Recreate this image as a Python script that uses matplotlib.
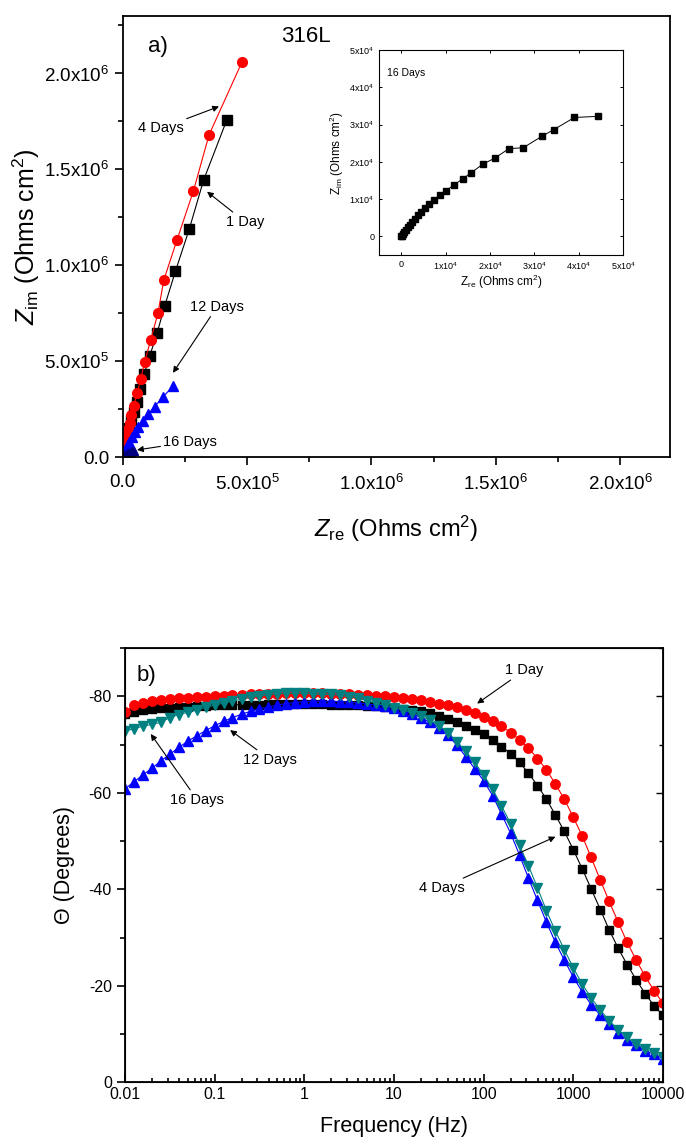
import numpy as np
import matplotlib
matplotlib.use('Agg')
import matplotlib.pyplot as plt
from matplotlib.ticker import FuncFormatter, MultipleLocator, FixedLocator

plt.rcParams['font.family'] = ['Liberation Sans', 'DejaVu Sans']
plt.rcParams['mathtext.fontset'] = 'custom'
plt.rcParams['mathtext.rm'] = 'Liberation Sans'
plt.rcParams['mathtext.it'] = 'Liberation Sans:italic'
plt.rcParams['axes.unicode_minus'] = False

# ---------------- a) Nyquist data [Ohms cm2] ----------------
zre_1day = [0.002e6, 0.004e6, 0.007e6, 0.011e6, 0.0149e6, 0.0242e6, 0.035e6, 0.047e6, 0.0578e6,
            0.070e6, 0.086e6, 0.1085e6, 0.138e6, 0.169e6, 0.212e6, 0.267e6, 0.325e6, 0.419e6]
zim_1day = [0.0, 0.011e6, 0.037e6, 0.072e6, 0.107e6, 0.150e6, 0.194e6, 0.238e6, 0.290e6,
            0.356e6, 0.432e6, 0.528e6, 0.646e6, 0.790e6, 0.970e6, 1.187e6, 1.444e6, 1.760e6]

zre_4day = [0.001e6, 0.003e6, 0.005e6, 0.007e6, 0.0111e6, 0.0157e6, 0.022e6, 0.028e6, 0.035e6,
            0.0442e6, 0.0578e6, 0.0723e6, 0.0884e6, 0.1125e6, 0.142e6, 0.165e6, 0.218e6,
            0.284e6, 0.347e6, 0.4795e6]
zim_4day = [0.020e6, 0.035e6, 0.045e6, 0.058e6, 0.081e6, 0.111e6, 0.145e6, 0.180e6, 0.220e6,
            0.269e6, 0.333e6, 0.406e6, 0.498e6, 0.611e6, 0.753e6, 0.923e6, 1.132e6,
            1.387e6, 1.680e6, 2.060e6]

zre_12day = [0.001e6, 0.0043e6, 0.0095e6, 0.0175e6, 0.0255e6, 0.036e6, 0.0482e6, 0.063e6,
             0.080e6, 0.102e6, 0.1285e6, 0.161e6, 0.202e6]
zim_12day = [0.0, 0.009e6, 0.030e6, 0.056e6, 0.082e6, 0.108e6, 0.134e6, 0.160e6,
             0.189e6, 0.224e6, 0.264e6, 0.3125e6, 0.371e6]

zre_16day = [0, 150, 300, 600, 970, 1420, 1940, 2460, 3060, 3730, 4480, 5300, 6190, 7310,
             8660, 10150, 11800, 13800, 15800, 18400, 21100, 24200, 27500, 31600, 34300,
             39000, 44400]
zim_16day = [0, 180, 625, 1160, 1790, 2410, 3125, 3930, 4730, 5625, 6600, 7600, 8660, 9730,
             11070, 12300, 13750, 15400, 17100, 19400, 21000, 23500, 23800, 26800, 28600,
             31900, 32200]

# ---------------- b) Bode phase data ----------------
freq = [0.01, 0.0126, 0.0158, 0.02, 0.0251, 0.0316, 0.0398, 0.0501, 0.0631, 0.0794,
        0.1, 0.126, 0.158, 0.2, 0.251, 0.316, 0.398, 0.501, 0.631, 0.794,
        1.0, 1.26, 1.58, 2.0, 2.51, 3.16, 3.98, 5.01, 6.31, 7.94,
        10.0, 12.6, 15.8, 20.0, 25.1, 31.6, 39.8, 50.1, 63.1, 79.4,
        100.0, 126.0, 158.0, 200.0, 251.0, 316.0, 398.0, 501.0, 631.0, 794.0,
        1000.0, 1260.0, 1580.0, 2000.0, 2510.0, 3160.0, 3980.0, 5010.0, 6310.0, 7940.0,
        10000.0]

phase_1day = [-76.7, -78.3, -78.7, -79.0, -79.3, -79.5, -79.6, -79.7, -79.8, -79.9,
              -80.0, -80.1, -80.2, -80.3, -80.4, -80.4, -80.5, -80.5, -80.6, -80.6,
              -80.6, -80.6, -80.6, -80.5, -80.5, -80.4, -80.3, -80.2, -80.1, -80.0,
              -79.9, -79.7, -79.5, -79.2, -78.9, -78.5, -78.1, -77.7, -77.2, -76.5,
              -75.8, -74.8, -73.8, -72.5, -71.0, -69.3, -67.1, -64.8, -61.8, -58.7,
              -54.9, -51.0, -46.6, -41.9, -37.5, -33.2, -29.0, -25.4, -22.0, -19.0,
              -16.4]
phase_4day = [-76.3, -76.8, -77.1, -77.3, -77.5, -77.6, -77.7, -77.8, -77.9, -78.0,
              -78.1, -78.2, -78.2, -78.3, -78.3, -78.3, -78.4, -78.4, -78.4, -78.4,
              -78.4, -78.4, -78.4, -78.3, -78.3, -78.2, -78.1, -78.0, -77.9, -77.8,
              -77.6, -77.4, -77.2, -76.9, -76.5, -75.9, -75.3, -74.6, -73.9, -73.1,
              -72.2, -71.0, -69.6, -68.1, -66.3, -64.1, -61.5, -58.7, -55.4, -52.0,
              -48.2, -44.2, -40.1, -35.8, -31.6, -27.8, -24.4, -21.3, -18.4, -15.9,
              -13.9]
phase_12day = [-60.8, -62.3, -63.7, -65.1, -66.6, -68.0, -69.4, -70.7, -71.8, -72.9,
               -73.9, -74.8, -75.6, -76.3, -76.9, -77.4, -77.8, -78.2, -78.5, -78.7,
               -78.9, -79.0, -79.0, -79.0, -78.9, -78.8, -78.6, -78.4, -78.2, -77.9,
               -77.5, -77.0, -76.4, -75.6, -74.6, -73.5, -72.0, -69.9, -67.5, -65.0,
               -62.5, -59.4, -55.6, -51.6, -47.1, -42.3, -37.7, -33.2, -29.0, -25.3,
               -21.8, -18.7, -16.1, -13.9, -12.0, -10.2, -8.8, -7.7, -6.5, -5.8,
               -4.9]
phase_16day = [-72.8, -73.3, -73.8, -74.2, -74.6, -75.6, -76.2, -76.7, -77.2, -77.7,
               -78.2, -78.6, -79.0, -79.4, -79.8, -80.1, -80.3, -80.5, -80.6, -80.6,
               -80.6, -80.5, -80.4, -80.4, -80.2, -79.9, -79.6, -79.1, -78.6, -78.1,
               -77.6, -77.2, -76.6, -75.9, -75.0, -73.9, -72.5, -70.6, -68.6, -66.3,
               -63.7, -60.7, -57.3, -53.6, -49.1, -44.9, -40.3, -35.6, -31.3, -27.5,
               -23.7, -20.3, -17.5, -15.0, -12.8, -10.9, -9.3, -7.9, -6.9, -6.1,
               -5.2]

RED = '#ff0000'
BLUE = '#0000ff'
NAVY = '#000080'
TEAL = '#008080'


def sci_label(v, pos):
    if v == 0:
        return '0.0'
    e = int(np.floor(np.log10(abs(v)) + 1e-9))
    return f'{v / 10**e:.1f}x10$^{{{e}}}$'


def sci_label_int(v, pos):
    if abs(v) < 1e-9:
        return '0'
    e = int(np.floor(np.log10(abs(v)) + 1e-9))
    return f'{v / 10**e:.0f}x10$^{{{e}}}$'


def arrow_note(ax, text, tip, where, size=10.5):
    ax.annotate(text, xy=tip, xytext=where, ha='center', va='center', fontsize=size,
                arrowprops=dict(arrowstyle='-|>', color='black', lw=0.8,
                                mutation_scale=9, shrinkA=0, shrinkB=0))


fig = plt.figure(figsize=(6.86, 11.44), dpi=100)

##############################
# a) Nyquist plot
##############################
ax1 = fig.add_axes([0.1789, 0.6003, 0.7978, 0.3858])
ax1.plot(zre_1day, zim_1day, '-s', color='black', lw=0.8, ms=6.5)
ax1.plot(zre_4day, zim_4day, '-o', color=RED, lw=0.8, ms=7)
ax1.plot(zre_12day, zim_12day, '-^', color=BLUE, lw=0.8, ms=7)
ax1.plot(zre_16day, zim_16day, '-^', color=NAVY, lw=0.8, ms=6)
ax1.set_xlim(0, 2.2e6)
ax1.set_ylim(0, 2.3e6)
ax1.xaxis.set_major_locator(FixedLocator([0, 5e5, 1e6, 1.5e6, 2e6]))
ax1.yaxis.set_major_locator(FixedLocator([0, 5e5, 1e6, 1.5e6, 2e6]))
ax1.xaxis.set_minor_locator(MultipleLocator(2.5e5))
ax1.yaxis.set_minor_locator(MultipleLocator(2.5e5))
ax1.xaxis.set_major_formatter(FuncFormatter(sci_label))
ax1.yaxis.set_major_formatter(FuncFormatter(sci_label))
ax1.tick_params(which='both', direction='out', labelsize=13.5, width=1.2)
ax1.tick_params(which='major', length=6)
ax1.tick_params(which='minor', length=3.5)
ax1.tick_params(axis='x', pad=6)
for s in ax1.spines.values():
    s.set_linewidth(1.3)
ax1.set_xlabel(r'$\mathit{Z}_{\mathrm{re}}$ (Ohms cm$^2$)', fontsize=17, labelpad=14)
ax1.set_ylabel(r'$\mathit{Z}_{\mathrm{im}}$ (Ohms cm$^2$)', fontsize=18, labelpad=2)
ax1.text(0.046, 0.930, 'a)', transform=ax1.transAxes, fontsize=16, ha='left', va='center')
ax1.text(0.289, 0.953, '316L', transform=ax1.transAxes, fontsize=16, ha='left', va='center')

arrow_note(ax1, '4 Days', (0.387e6, 1.828e6), (0.154e6, 1.714e6))
arrow_note(ax1, '1 Day', (0.339e6, 1.384e6), (0.492e6, 1.227e6))
arrow_note(ax1, '12 Days', (0.202e6, 0.440e6), (0.379e6, 0.784e6))
arrow_note(ax1, '16 Days', (0.0575e6, 0.038e6), (0.271e6, 0.080e6))

# inset: 16 days zoom
axi = fig.add_axes([0.5525, 0.7771, 0.3561, 0.1792])
axi.plot(zre_16day, zim_16day, '-s', color='black', lw=0.7, ms=4.5)
axi.set_xlim(-5000, 50000)
axi.set_ylim(-5000, 50000)
axi.xaxis.set_major_locator(MultipleLocator(10000))
axi.yaxis.set_major_locator(MultipleLocator(10000))
axi.xaxis.set_major_formatter(FuncFormatter(sci_label_int))
axi.yaxis.set_major_formatter(FuncFormatter(sci_label_int))
axi.tick_params(direction='in', length=2.5, width=0.7, labelsize=6.5, top=True, right=True)
for s in axi.spines.values():
    s.set_linewidth(0.8)
axi.set_xlabel(r'Z$_{\mathrm{re}}$ (Ohms cm$^2$)', fontsize=8.5, labelpad=1)
axi.set_ylabel(r'Z$_{\mathrm{im}}$ (Ohms cm$^2$)', fontsize=8.5, labelpad=2)
axi.text(0.033, 0.888, '16 Days', transform=axi.transAxes, fontsize=7.5, ha='left', va='center')

##############################
# b) Bode phase plot
##############################
ax2 = fig.add_axes([0.1822, 0.0539, 0.7843, 0.3796])
ax2.plot(freq, phase_4day, '-s', color='black', lw=0.8, ms=6)
ax2.plot(freq, phase_1day, '-o', color=RED, lw=0.8, ms=6.8)
ax2.plot(freq, phase_12day, '-^', color=BLUE, lw=0.8, ms=7)
ax2.plot(freq, phase_16day, '-v', color=TEAL, lw=0.8, ms=7)
ax2.set_xscale('log')
ax2.set_xlim(0.01, 10000)
ax2.set_ylim(0, -90)
ax2.set_xticks([0.01, 0.1, 1, 10, 100, 1000, 10000])
ax2.set_xticklabels(['0.01', '0.1', '1', '10', '100', '1000', '10000'])
ax2.yaxis.set_major_locator(MultipleLocator(20))
ax2.yaxis.set_minor_locator(MultipleLocator(10))
ax2.tick_params(axis='x', which='both', direction='in', width=1.2)
ax2.tick_params(axis='x', which='major', length=6)
ax2.tick_params(axis='x', which='minor', length=3)
ax2.tick_params(axis='y', which='both', direction='out', width=1.2)
ax2.tick_params(axis='y', which='major', length=6)
ax2.tick_params(axis='y', which='minor', length=3.5)
ax2.tick_params(labelsize=11.5)
for s in ax2.spines.values():
    s.set_linewidth(1.3)
ax2.set_xlabel('Frequency (Hz)', fontsize=15.5, labelpad=10)
ax2.set_ylabel('\u0398 (Degrees)', fontsize=15.5, labelpad=10)
ax2.text(0.022, 0.938, 'b)', transform=ax2.transAxes, fontsize=16, ha='left', va='center')

# right-hand ticks point inward
ax2r = ax2.twinx()
ax2r.set_ylim(0, -90)
ax2r.yaxis.set_major_locator(MultipleLocator(20))
ax2r.yaxis.set_minor_locator(MultipleLocator(10))
ax2r.tick_params(which='both', direction='in', width=1.0, labelright=False)
ax2r.tick_params(which='major', length=5)
ax2r.tick_params(which='minor', length=3)

arrow_note(ax2, '1 Day', (84.5, -78.5), (286, -85.4))
arrow_note(ax2, '4 Days', (631, -50.9), (33.8, -40.3))
arrow_note(ax2, '12 Days', (0.1488, -73.0), (0.416, -66.9))
arrow_note(ax2, '16 Days', (0.01936, -72.2), (0.0637, -58.6))

fig.savefig('out.png', dpi=100)
